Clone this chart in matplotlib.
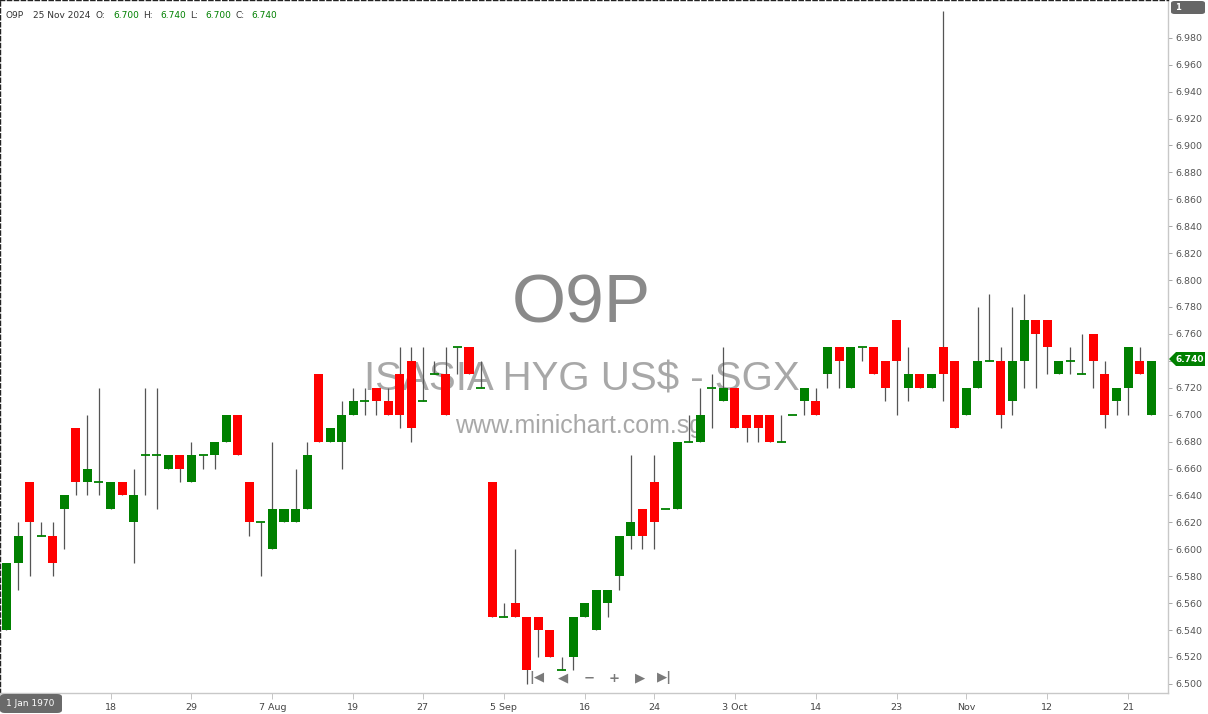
import numpy as np
import matplotlib
matplotlib.use("Agg")
import matplotlib.pyplot as plt
from matplotlib.patches import FancyBboxPatch, Polygon

# daily OHLC, 5 Jul - 25 Nov 2024
dates = ["5 Jul", "8 Jul", "9 Jul", "10 Jul", "11 Jul", "12 Jul", "15 Jul", "16 Jul", "17 Jul", "18 Jul",
         "19 Jul", "22 Jul", "23 Jul", "24 Jul", "25 Jul", "26 Jul", "29 Jul", "30 Jul", "31 Jul", "1 Aug",
         "2 Aug", "5 Aug", "6 Aug", "7 Aug", "8 Aug", "12 Aug", "13 Aug", "14 Aug", "15 Aug", "16 Aug",
         "19 Aug", "20 Aug", "21 Aug", "22 Aug", "23 Aug", "26 Aug", "27 Aug", "28 Aug", "29 Aug", "30 Aug",
         "2 Sep", "3 Sep", "4 Sep", "5 Sep", "6 Sep", "9 Sep", "10 Sep", "11 Sep", "12 Sep", "13 Sep",
         "16 Sep", "17 Sep", "18 Sep", "19 Sep", "20 Sep", "23 Sep", "24 Sep", "25 Sep", "26 Sep", "27 Sep",
         "30 Sep", "1 Oct", "2 Oct", "3 Oct", "4 Oct", "7 Oct", "8 Oct", "9 Oct", "10 Oct", "11 Oct",
         "14 Oct", "15 Oct", "16 Oct", "17 Oct", "18 Oct", "21 Oct", "22 Oct", "23 Oct", "24 Oct", "25 Oct",
         "28 Oct", "29 Oct", "30 Oct", "1 Nov", "4 Nov", "5 Nov", "6 Nov", "7 Nov", "8 Nov", "11 Nov",
         "12 Nov", "13 Nov", "14 Nov", "15 Nov", "18 Nov", "19 Nov", "20 Nov", "21 Nov", "22 Nov", "25 Nov"]

opens = [6.54, 6.59, 6.65, 6.61, 6.61, 6.63, 6.69, 6.65, 6.65, 6.63,
         6.65, 6.62, 6.67, 6.67, 6.66, 6.67, 6.65, 6.67, 6.67, 6.68,
         6.70, 6.65, 6.62, 6.60, 6.62, 6.62, 6.63, 6.73, 6.68, 6.68,
         6.70, 6.71, 6.72, 6.71, 6.73, 6.74, 6.71, 6.73, 6.73, 6.75,
         6.75, 6.72, 6.65, 6.55, 6.56, 6.55, 6.55, 6.54, 6.51, 6.52,
         6.55, 6.54, 6.56, 6.58, 6.61, 6.63, 6.65, 6.63, 6.63, 6.68,
         6.68, 6.72, 6.71, 6.72, 6.70, 6.70, 6.70, 6.68, 6.70, 6.71,
         6.71, 6.73, 6.75, 6.72, 6.75, 6.75, 6.74, 6.77, 6.72, 6.73,
         6.72, 6.75, 6.74, 6.70, 6.72, 6.74, 6.74, 6.71, 6.74, 6.77,
         6.77, 6.73, 6.74, 6.73, 6.76, 6.73, 6.71, 6.72, 6.74, 6.70]
highs = [6.59, 6.62, 6.65, 6.62, 6.62, 6.64, 6.69, 6.70, 6.72, 6.65,
         6.65, 6.66, 6.72, 6.72, 6.67, 6.67, 6.68, 6.67, 6.68, 6.70,
         6.70, 6.65, 6.62, 6.68, 6.63, 6.66, 6.68, 6.73, 6.69, 6.71,
         6.72, 6.72, 6.72, 6.72, 6.75, 6.75, 6.75, 6.74, 6.75, 6.75,
         6.75, 6.74, 6.65, 6.56, 6.60, 6.55, 6.55, 6.54, 6.52, 6.55,
         6.56, 6.57, 6.57, 6.61, 6.67, 6.63, 6.67, 6.63, 6.68, 6.70,
         6.72, 6.73, 6.75, 6.72, 6.70, 6.70, 6.70, 6.70, 6.70, 6.72,
         6.72, 6.75, 6.75, 6.75, 6.75, 6.75, 6.74, 6.77, 6.75, 6.73,
         6.73, 7.00, 6.74, 6.72, 6.78, 6.79, 6.75, 6.78, 6.79, 6.77,
         6.77, 6.74, 6.75, 6.76, 6.76, 6.74, 6.72, 6.75, 6.75, 6.74]
lows = [6.54, 6.57, 6.58, 6.61, 6.58, 6.60, 6.64, 6.64, 6.64, 6.63,
        6.64, 6.59, 6.64, 6.63, 6.66, 6.65, 6.65, 6.66, 6.66, 6.68,
        6.67, 6.61, 6.58, 6.60, 6.62, 6.62, 6.63, 6.68, 6.68, 6.66,
        6.70, 6.70, 6.70, 6.70, 6.69, 6.68, 6.71, 6.73, 6.70, 6.73,
        6.73, 6.72, 6.55, 6.55, 6.55, 6.50, 6.52, 6.52, 6.51, 6.51,
        6.55, 6.54, 6.55, 6.57, 6.60, 6.60, 6.60, 6.63, 6.63, 6.68,
        6.68, 6.69, 6.71, 6.69, 6.68, 6.68, 6.68, 6.68, 6.70, 6.70,
        6.70, 6.72, 6.72, 6.72, 6.74, 6.73, 6.71, 6.70, 6.71, 6.72,
        6.72, 6.71, 6.69, 6.70, 6.72, 6.74, 6.69, 6.70, 6.72, 6.72,
        6.73, 6.73, 6.73, 6.73, 6.72, 6.69, 6.70, 6.70, 6.73, 6.70]
closes = [6.59, 6.61, 6.62, 6.61, 6.59, 6.64, 6.65, 6.66, 6.65, 6.65,
          6.64, 6.64, 6.67, 6.67, 6.67, 6.66, 6.67, 6.67, 6.68, 6.70,
          6.67, 6.62, 6.62, 6.63, 6.63, 6.63, 6.67, 6.68, 6.69, 6.70,
          6.71, 6.71, 6.71, 6.70, 6.70, 6.69, 6.71, 6.73, 6.70, 6.75,
          6.73, 6.72, 6.55, 6.55, 6.55, 6.51, 6.54, 6.52, 6.51, 6.55,
          6.56, 6.57, 6.57, 6.61, 6.62, 6.61, 6.62, 6.63, 6.68, 6.68,
          6.70, 6.72, 6.72, 6.69, 6.69, 6.69, 6.68, 6.68, 6.70, 6.72,
          6.70, 6.75, 6.74, 6.75, 6.75, 6.73, 6.72, 6.74, 6.73, 6.72,
          6.73, 6.73, 6.69, 6.72, 6.74, 6.74, 6.70, 6.74, 6.77, 6.76,
          6.75, 6.74, 6.74, 6.73, 6.74, 6.70, 6.72, 6.75, 6.73, 6.74]

tick_days = ["18 Jul", "29 Jul", "7 Aug", "19 Aug", "27 Aug", "5 Sep", "16 Sep",
             "24 Sep", "3 Oct", "14 Oct", "23 Oct", "1 Nov", "12 Nov", "21 Nov"]
tick_labels = ["18", "29", "7 Aug", "19", "27", "5 Sep", "16",
               "24", "3 Oct", "14", "23", "Nov", "12", "21"]

GREEN = "#008000"
RED = "#ff0000"
W, H = 1208, 714


def fpos(x, y):
    # pixel -> figure fraction
    return x / W, 1 - y / H


fig = plt.figure(figsize=(W / 100, H / 100), dpi=100)
fig.patch.set_facecolor("white")
ax = fig.add_axes([0, 21 / H, 1168 / W, 693 / H])
ax.set_facecolor("white")

o = np.array(opens)
c = np.array(closes)
hi = np.array(highs)
lo = np.array(lows)
x = np.arange(len(o))
bw = 0.78
last = c[-1]

ax.vlines(x, lo, hi, color="#555555", lw=0.9, zorder=2)
up = c > o
dn = c < o
flat = c == o
ax.bar(x[up], (c - o)[up], bottom=o[up], width=bw, color=GREEN, linewidth=0, zorder=3)
ax.bar(x[dn], (o - c)[dn], bottom=c[dn], width=bw, color=RED, linewidth=0, zorder=3)
ax.hlines(o[flat], x[flat] - bw / 2, x[flat] + bw / 2, color=GREEN, lw=1.3, zorder=3)

ax.set_xlim(-0.56, 100.45)
ax.set_ylim(6.4932, 7.0081)

# watermark
ax.text(0.498, 0.561, "O9P", transform=ax.transAxes, ha="center", va="center",
        fontsize=50, color="#8a8a8a", family="Liberation Sans", zorder=0)
ax.text(0.498, 0.452, "ISASIA HYG US$ - SGX", transform=ax.transAxes, ha="center",
        va="center", fontsize=29, color="#a8a8a8", family="Liberation Sans", zorder=0)
ax.text(0.496, 0.386, "www.minichart.com.sg", transform=ax.transAxes, ha="center",
        va="center", fontsize=18, color="#a8a8a8", family="Liberation Sans", zorder=0)


def price_fmt(v, pos):
    # the last-price tag covers its own level
    return "" if abs(v - last) < 1e-6 else "%.3f" % v


ax.yaxis.tick_right()
ax.set_yticks(np.arange(6.50, 6.981, 0.02))
ax.yaxis.set_major_formatter(matplotlib.ticker.FuncFormatter(price_fmt))
ax.tick_params(axis="y", length=3, width=0.6, color="#999999", pad=2,
               labelsize=6.8, labelcolor="#555555")
ax.set_xticks([dates.index(d) for d in tick_days])
ax.set_xticklabels(tick_labels)
ax.tick_params(axis="x", length=4, width=0.6, color="#bbbbbb", pad=3,
               labelsize=6.8, labelcolor="#444444")
for s in ("left", "top"):
    ax.spines[s].set_linestyle((0, (3, 2)))
    ax.spines[s].set_color("#222222")
    ax.spines[s].set_linewidth(1)
for s in ("right", "bottom"):
    ax.spines[s].set_color("#c8c8c8")
    ax.spines[s].set_linewidth(1)

# header line
hdr = [("O9P", 6, "#333333"), ("25 Nov 2024", 33, "#333333"),
       ("O:", 95, "#333333"), ("6.700", 113, GREEN),
       ("H:", 143, "#333333"), ("6.740", 160, GREEN),
       ("L:", 190, "#333333"), ("6.700", 205, GREEN),
       ("C:", 236, "#333333"), ("6.740", 251, GREEN)]
for txt, px, col in hdr:
    fig.text(*fpos(px, 15), txt, ha="left", va="center", fontsize=6.5, color=col)

# navigation icons
for txt, px in [("|◀", 537), ("◀", 563), ("−", 589), ("+", 614), ("▶", 640), ("▶|", 665)]:
    fig.text(*fpos(px, 678), txt, ha="center", va="center", fontsize=9.5,
             color="#7a7a7a", fontweight="bold")

# "1" box top right
fig.patches.append(FancyBboxPatch(fpos(1171, 14), 34 / W, 13 / H,
                                  boxstyle="round,pad=0,rounding_size=0.003",
                                  transform=fig.transFigure, facecolor="#666666",
                                  edgecolor="none"))
fig.text(*fpos(1175, 7), "1", ha="left", va="center", fontsize=6, color="white",
         fontweight="bold")

# last price tag
pts = [fpos(1169, 359), fpos(1176, 352), fpos(1205, 352), fpos(1205, 366), fpos(1176, 366)]
fig.patches.append(Polygon(pts, closed=True, transform=fig.transFigure,
                           facecolor=GREEN, edgecolor="none"))
fig.text(*fpos(1190, 359), "%.3f" % last, ha="center", va="center", fontsize=6.5,
         color="white", fontweight="bold")

# crosshair date box bottom left
fig.patches.append(FancyBboxPatch(fpos(0, 713), 62 / W, 19 / H,
                                  boxstyle="round,pad=0,rounding_size=0.004",
                                  transform=fig.transFigure, facecolor="#6a6a6a",
                                  edgecolor="none", zorder=5))
fig.text(*fpos(30, 704), "1 Jan 1970", ha="center", va="center", fontsize=6.5,
         color="white", zorder=6)

fig.savefig("out.png", dpi=100)
